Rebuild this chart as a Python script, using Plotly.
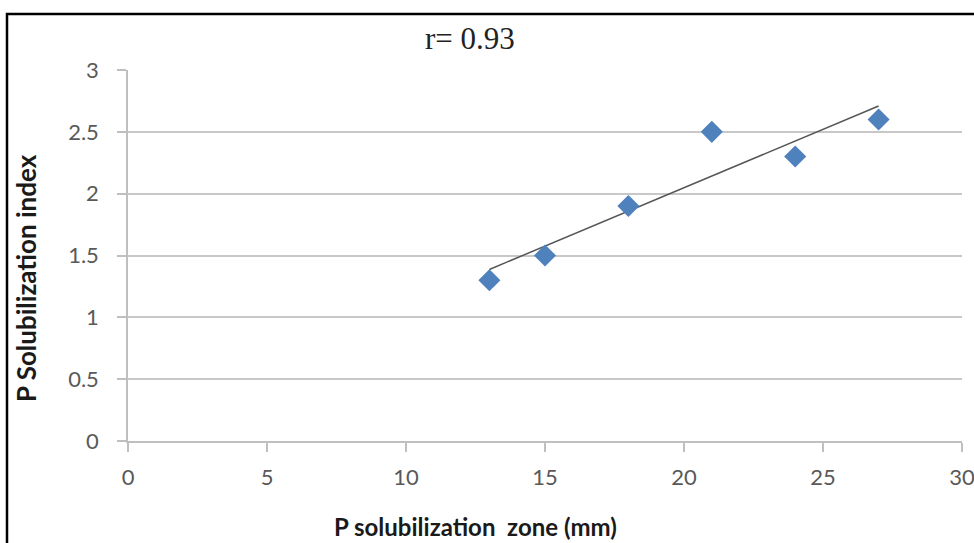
import numpy as np
import plotly.graph_objects as go

zone_mm = [13, 15, 18, 21, 24, 27]
sol_index = [1.3, 1.5, 1.9, 2.5, 2.3, 2.6]
x_ticks = [0, 5, 10, 15, 20, 25, 30]
y_ticks = [0, 0.5, 1, 1.5, 2, 2.5, 3]
r_label = "r= 0.93"
x_title = "<b>P solubilization  zone (mm)</b>"
y_title = "<b>P Solubilization index</b>"

slope, intercept = np.polyfit(zone_mm, sol_index, 1)
trend_x = [min(zone_mm), max(zone_mm)]
trend_y = [slope * v + intercept for v in trend_x]

fig = go.Figure()
fig.add_trace(go.Scatter(x=trend_x, y=trend_y, mode="lines",
                         line=dict(color="#555555", width=1.5), showlegend=False, hoverinfo="skip"))
fig.add_trace(go.Scatter(x=zone_mm, y=sol_index, mode="markers",
                         marker=dict(symbol="diamond", size=17, color="#4F81BD"),
                         showlegend=False))

W, H = 974, 543
L, T = 128, 70
R = W - 962
B = H - 441
pw, ph = W - L - R, H - T - B

def sx(px):
    return (px - L) / pw

def sy(py):
    return (H - B - py) / ph

fig.add_shape(type="rect", xref="paper", yref="paper",
              x0=sx(7), x1=sx(1000), y0=sy(14), y1=sy(580),
              line=dict(color="black", width=2.5), fillcolor="rgba(0,0,0,0)", layer="above")

fig.add_annotation(text=r_label, xref="paper", yref="paper",
                   x=sx(470), y=sy(38), showarrow=False, yanchor="middle", xanchor="center",
                   font=dict(family="Liberation Serif", size=31, color="#222222"))
fig.add_annotation(text=x_title, xref="paper", yref="paper",
                   x=sx(475), y=sy(526), showarrow=False, yanchor="middle", xanchor="center",
                   font=dict(family="Lato", size=24, color="#1a1a1a"))
fig.add_annotation(text=y_title, xref="paper", yref="paper", textangle=-90,
                   x=sx(26), y=sy(278), showarrow=False, yanchor="middle", xanchor="center",
                   font=dict(family="Lato", size=26, color="#1a1a1a"))

tick_font = dict(family="Lato", size=22, color="#595959")
fig.update_xaxes(range=[0, 30], tickvals=x_ticks, showgrid=False, zeroline=False, automargin=False,
                 showline=True, linecolor="#BFBFBF", linewidth=1.5,
                 ticks="outside", ticklen=9, tickcolor="#BFBFBF", tickwidth=1.5,
                 tickfont=tick_font, ticklabelstandoff=7, ticklabeloverflow="allow")
fig.update_yaxes(range=[0, 3], tickvals=y_ticks, showgrid=True, gridcolor="#C8C8C8", gridwidth=1.5,
                 zeroline=False, showline=True, linecolor="#BFBFBF", linewidth=1.5, automargin=False,
                 ticks="outside", ticklen=9, tickcolor="#BFBFBF", tickwidth=1.5,
                 tickfont=tick_font, ticklabelstandoff=14, ticklabeloverflow="allow")

fig.update_layout(width=W, height=H, margin=dict(l=L, r=R, t=T, b=B),
                  plot_bgcolor="white", paper_bgcolor="white")

fig.write_html("out.html", config={"displayModeBar": False},
               post_script="document.body.style.margin='0';document.body.style.overflow='hidden';")
